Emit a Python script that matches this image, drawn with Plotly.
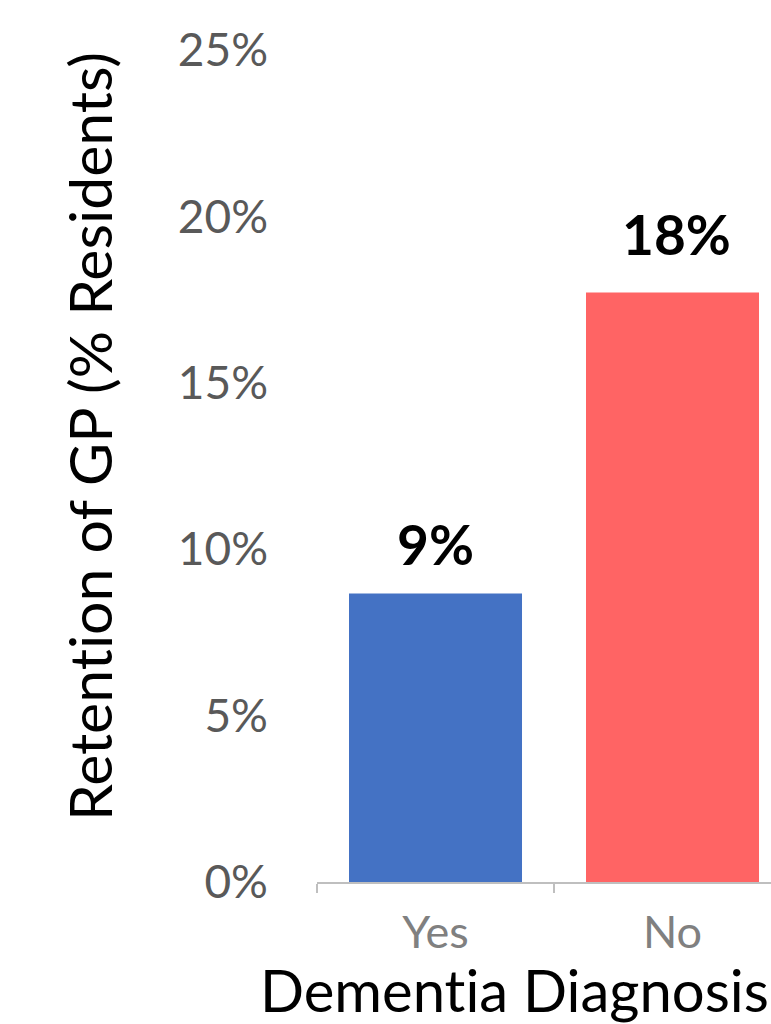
import plotly.graph_objects as go

categories = ["Yes", "No"]
values = [8.67, 17.71]
labels = ["9%", "18%"]
colors = ["#4472C4", "#FF6464"]
y_ticks = [0, 5, 10, 15, 20, 25]
y_ticklabels = ["0%", "5%", "10%", "15%", "20%", "25%"]

FONT = "Lato"
ZWNJ = "\u200c"

fig = go.Figure()
fig.add_trace(go.Bar(
    x=categories, y=values, marker=dict(color=colors, line=dict(width=0)),
    width=0.73, showlegend=False, hoverinfo="skip",
))

label_shift = [(0, 14), (4, 24)]
for (c, v, t), (dx, dy) in zip(zip(categories, values, labels), label_shift):
    fig.add_annotation(x=c, y=v, xref="x", yref="y", text=f"<b>{t}</b>",
                       showarrow=False, yanchor="bottom", yshift=dy, xshift=dx,
                       font=dict(family=FONT, size=55, color="#000000"))

fig.add_annotation(xref="paper", yref="paper", x=-0.5, y=0.535,
                   text=f"Retent{ZWNJ}ion of GP (% Residents)", textangle=-90,
                   showarrow=False, xanchor="center", yanchor="middle",
                   font=dict(family=FONT, size=59, color="#000000"))
fig.add_annotation(xref="paper", yref="paper", x=0.434, y=-0.129,
                   text=f"Dement{ZWNJ}ia Diagnosis",
                   showarrow=False, xanchor="center", yanchor="middle",
                   font=dict(family=FONT, size=58, color="#000000"))

fig.update_layout(
    width=771, height=1024,
    margin=dict(l=317, r=0, t=50, b=142, pad=0),
    plot_bgcolor="white", paper_bgcolor="white",
    bargap=0.27,
)
fig.update_xaxes(
    type="category", range=[-0.5, -0.5 + 454 / 237],
    showline=True, linecolor="#BFBFBF", linewidth=1.5,
    ticks="outside", tickson="boundaries", ticklen=9, tickcolor="#BFBFBF", tickwidth=1.5,
    ticklabelstandoff=10,
    tickfont=dict(family=FONT, size=45, color="#808080"),
    showgrid=False, zeroline=False,
)
fig.update_yaxes(
    range=[0, 25], tickvals=y_ticks, ticktext=y_ticklabels,
    showline=False, showgrid=False, zeroline=False,
    ticks="", ticklabelstandoff=48,
    tickfont=dict(family=FONT, size=46, color="#595959"),
)

fig.write_html("out.html")
